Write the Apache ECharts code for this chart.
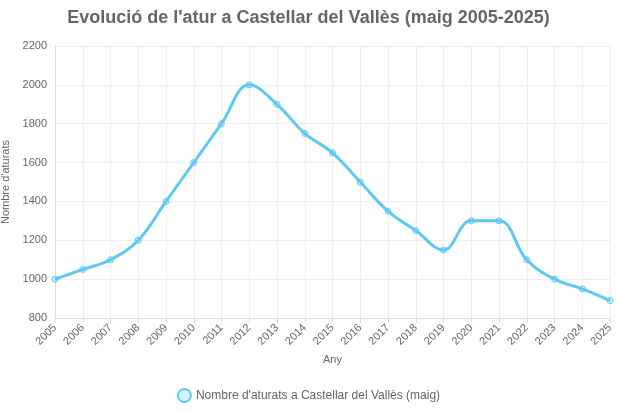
<!DOCTYPE html>
<html>
<head>
<meta charset="utf-8">
<script src="https://cdn.jsdelivr.net/npm/echarts@6/dist/echarts.min.js"></script>
<style>html,body{margin:0;padding:0;background:#fff}#chart{width:617px;height:412px}</style>
</head>
<body>
<div id="chart"></div>
<script>
// anys i nombre d'aturats (maig)
const years = ['2005','2006','2007','2008','2009','2010','2011','2012','2013','2014','2015',
  '2016','2017','2018','2019','2020','2021','2022','2023','2024','2025'];
const aturats = [1000, 1050, 1100, 1200, 1400, 1600, 1800, 2000, 1900, 1750, 1650,
  1500, 1350, 1250, 1150, 1300, 1300, 1100, 1000, 950, 890];
const seriesName = "Nombre d'aturats a Castellar del Vallès (maig)";

const myChart = echarts.init(document.getElementById('chart'));
const option = {
  animation: false,
  backgroundColor: '#fff',
  textStyle: {fontFamily: '"Liberation Sans", Arial, sans-serif'},
  title: {
    text: "Evolució de l'atur a Castellar del Vallès (maig 2005-2025)",
    left: 'center',
    top: 4,
    textStyle: {fontSize: 18, fontWeight: 'bold', color: '#666'}
  },
  legend: {
    data: [seriesName],
    bottom: 4,
    icon: 'circle',
    itemWidth: 13,
    itemHeight: 13,
    textStyle: {color: '#666', fontSize: 12}
  },
  grid: {left: 55, right: 7, top: 46, bottom: 94, containLabel: false, outerBoundsMode: 'none'},
  xAxis: {
    type: 'category',
    data: years,
    boundaryGap: false,
    name: 'Any',
    nameLocation: 'middle',
    nameGap: 26,
    nameTextStyle: {color: '#666', fontSize: 11},
    axisLine: {lineStyle: {color: '#ddd'}},
    axisTick: {show: true, lineStyle: {color: '#ddd'}},
    axisLabel: {color: '#666', fontSize: 11, rotate: 45, interval: 0},
    splitLine: {show: true, lineStyle: {color: '#eee'}}
  },
  yAxis: {
    type: 'value',
    min: 800,
    max: 2200,
    interval: 200,
    name: "Nombre d'aturats",
    nameLocation: 'middle',
    nameGap: 44,
    nameTextStyle: {color: '#666', fontSize: 11},
    axisLine: {show: true, lineStyle: {color: '#ddd'}},
    axisLabel: {color: '#666', fontSize: 11, formatter: v => String(v)},
    splitLine: {lineStyle: {color: '#eee'}}
  },
  series: [{
    name: seriesName,
    type: 'line',
    data: aturats,
    smooth: 0.4,
    symbol: 'circle',
    symbolSize: 6,
    itemStyle: {color: 'rgba(94,200,245,0.25)', borderColor: '#5ec8f5', borderWidth: 1},
    lineStyle: {color: '#5ec8f5', width: 3}
  }]
};
myChart.setOption(option, true);
</script>
</body>
</html>
